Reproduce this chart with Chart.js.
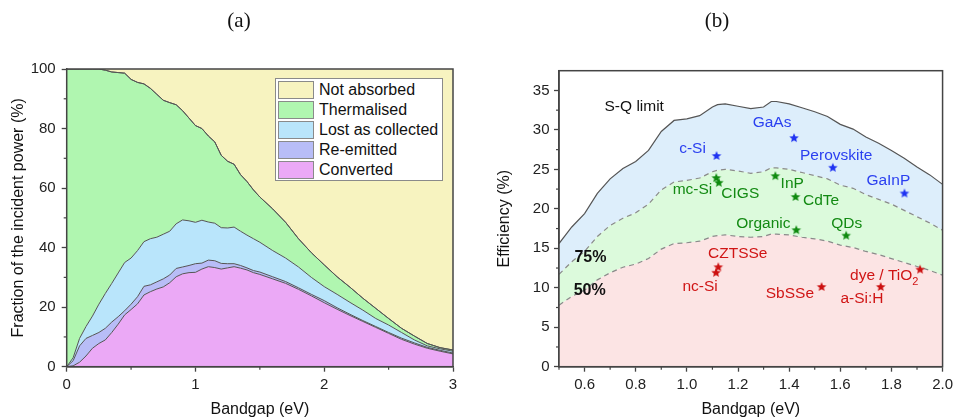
<!DOCTYPE html>
<html>
<head>
<meta charset="utf-8">
<script src="https://cdn.jsdelivr.net/npm/chart.js@4.4.0/dist/chart.umd.min.js"></script>
<style>
  body { margin: 0; background: #fff; }
  #wrap { position: relative; width: 957px; height: 419px; overflow: hidden; }
  .panel { position: absolute; top: 0; height: 419px; }
  #pa { left: 0; width: 478px; }
  #pb { left: 478px; width: 479px; }
  #legA {
    position: absolute; left: 275px; top: 78px; width: 168px; height: 103px;
    margin: 0; padding: 1px 0 0 0; list-style: none; box-sizing: border-box;
    background: #fff; border: 1px solid #8a8a8a;
    font: 16px "Liberation Sans", Arial, sans-serif; color: #111;
  }
  #legA li { display: flex; align-items: center; height: 20px; }
  #legA .sw {
    display: inline-block; width: 36px; height: 18px; margin: 0 5px 0 2px;
    border: 1px solid #8a8a8a; box-sizing: border-box;
  }
</style>
</head>
<body>
<div id="wrap">
  <div class="panel" id="pa"><canvas id="chartA" width="478" height="419"></canvas></div>
  <div class="panel" id="pb"><canvas id="chartB" width="479" height="419"></canvas></div>
  <ul id="legA"></ul>
</div>
<script>
// ===== (a) energy balance vs bandgap: cumulative boundaries (%) =====
const bandgapA = [0, 0.05, 0.1, 0.15, 0.2, 0.25, 0.3, 0.35, 0.4, 0.45, 0.5, 0.55, 0.6, 0.65, 0.7, 0.75, 0.8, 0.85, 0.9, 0.95,
  1.0, 1.05, 1.1, 1.15, 1.2, 1.25, 1.3, 1.35, 1.4, 1.45, 1.5, 1.6, 1.7, 1.8, 1.9, 2.0, 2.1, 2.2, 2.3, 2.4, 2.5, 2.6, 2.7, 2.8, 2.9, 3.0];
const convertedTop = [0, 0.3, 1.5, 3.6, 6.2, 7.8, 9, 11.5, 14.3, 17.4, 19.2, 21.1, 24.1, 25.2, 26.1, 26.8, 28.2, 30.2, 31.2, 31.6,
  31.7, 32.8, 33.6, 33.3, 32.8, 33.2, 33.6, 33.1, 32.5, 31.6, 31, 29.5, 28, 26, 23.8, 21.5, 19.3, 17.2, 15.2, 13.2, 11.2, 9.2, 7.6, 6.2, 5.2, 4.3];
const reemittedTop = [0, 2, 7, 9.5, 10.5, 11.5, 12.9, 15, 16.8, 18.8, 21, 23.5, 27, 27.5, 28.5, 29.5, 30.8, 33, 33.5, 34,
  34.6, 34.8, 35.8, 35.6, 34.7, 34.6, 34.6, 34, 33.2, 32.3, 31.8, 30.2, 28.6, 26.5, 24.3, 22.2, 19.8, 17.6, 15.5, 13.5, 11.5, 9.6, 8, 6.5, 5.5, 4.6];
const lostTop = [0, 3, 9.5, 13.5, 17, 21, 24.6, 28, 31.5, 35, 36.5, 39, 42, 43, 43.5, 44.5, 45.5, 48, 49.3, 49,
  48.5, 49.2, 48.6, 48.2, 46.7, 46.6, 46.9, 45.5, 44.2, 43, 41.8, 39, 36.5, 33.5, 30, 26.9, 24.3, 21.6, 19, 16.2, 14, 11.5, 9, 7, 6, 5.2];
const thermalisedTop = [100, 100, 100, 100, 100, 100, 99.6, 99, 98.8, 98.6, 96.5, 95.5, 95, 93.5, 91.5, 89.5, 88.7, 88, 86, 83.5,
  81, 80, 77.5, 75.5, 71, 69, 68, 64.5, 62.2, 59.4, 57, 53, 48.5, 43, 38.3, 34.2, 30.2, 26.7, 23, 19.6, 16.2, 12.9, 10.3, 7.8, 6.4, 5.6];
const legendA = ["Not absorbed", "Thermalised", "Lost as collected", "Re-emitted", "Converted"];

// ===== (b) efficiency limits vs bandgap (%) =====
const bandgapB = [0.5, 0.55, 0.6, 0.65, 0.7, 0.75, 0.8, 0.85, 0.9, 0.95, 1.0, 1.05, 1.1, 1.12, 1.15, 1.2, 1.25, 1.3, 1.33, 1.35,
  1.4, 1.45, 1.5, 1.55, 1.6, 1.65, 1.7, 1.75, 1.8, 1.85, 1.9, 1.95, 2.0];
const sqLimit = [15.6, 17.7, 19.4, 21.95, 23.8, 25.1, 26.0, 27.4, 29.8, 31.2, 31.4, 31.8, 32.9, 33.2, 33.3, 33.0, 32.7, 32.9, 33.6, 33.6,
  33.3, 32.8, 32.3, 31.7, 30.7, 30.1, 29.1, 28.3, 27.4, 26.4, 25.3, 24.3, 23.1];
const sq75 = [11.7, 13.3, 14.6, 16.5, 17.9, 18.8, 19.5, 20.6, 22.4, 23.4, 23.6, 23.9, 24.7, 24.9, 25.0, 24.8, 24.5, 24.7, 25.2, 25.2,
  25.0, 24.6, 24.2, 23.8, 23.0, 22.6, 21.8, 21.2, 20.6, 19.8, 19.0, 18.2, 17.3];
const sq50 = [7.8, 8.9, 9.7, 11.0, 11.9, 12.6, 13.0, 13.7, 14.9, 15.6, 15.7, 15.9, 16.5, 16.6, 16.7, 16.5, 16.4, 16.5, 16.8, 16.8,
  16.7, 16.4, 16.2, 15.9, 15.4, 15.1, 14.6, 14.2, 13.7, 13.2, 12.7, 12.2, 11.6];

// record cells: bandgap (eV), efficiency (%), group
const cellName  = ["c-Si", "GaAs", "Perovskite", "GaInP", "mc-Si", "CIGS", "InP", "CdTe", "Organic", "QDs",
  "CZTSSe", "nc-Si", "SbSSe", "a-Si:H", "dye / TiO2"];
const cellGap   = [1.116, 1.419, 1.571, 1.851, 1.115, 1.125, 1.346, 1.425, 1.428, 1.623, 1.123, 1.114, 1.527, 1.758, 1.912];
const cellEff   = [26.7, 28.96, 25.2, 21.95, 23.9, 23.3, 24.15, 21.5, 17.3, 16.6, 12.6, 11.9, 10.1, 10.1, 12.3];
const cellGroup = ["blue", "blue", "blue", "blue", "green", "green", "green", "green", "green", "green",
  "red", "red", "red", "red", "red"];

// text annotations (data coordinates)
const noteText  = ["S-Q limit", "GaAs", "c-Si", "Perovskite", "GaInP", "mc-Si", "CIGS", "InP", "CdTe", "Organic", "QDs",
  "CZTSSe", "nc-Si", "SbSSe", "dye / TiO", "a-Si:H", "75%", "50%"];
const noteSub   = ["", "", "", "", "", "", "", "", "", "", "", "", "", "", "2", "", "", ""];
const noteX     = [0.678, 1.333, 1.022, 1.584, 1.788, 1.022, 1.209, 1.412, 1.525, 1.299, 1.625,
  1.199, 1.052, 1.403, 1.638, 1.685, 0.623, 0.62];
const noteY     = [33.0, 30.9, 27.6, 26.7, 23.6, 22.4, 21.9, 23.2, 21.0, 18.15, 18.15, 14.3, 10.1, 9.3, 11.5, 8.65, 13.85, 9.6];
const noteGroup = ["black", "blue", "blue", "blue", "blue", "green", "green", "green", "green", "green", "green",
  "red", "red", "red", "red", "red", "pct", "pct"];

// ===== estilos =====
const SANS = '"Liberation Sans", Arial, sans-serif';
const SERIF = '"Liberation Serif", "Times New Roman", serif';
const AXIS = "#444";
const LINE = "#555";
const groupColor = { black: "#111", blue: "#2a3ff0", green: "#138a13", red: "#d01515", pct: "#111" };
const starColor = { blue: "#1f33f2", green: "#0f8a0f", red: "#cc1010" };
const fillsA = {
  "Not absorbed": "#f7f3c0",
  "Thermalised": "#b0f6b0",
  "Lost as collected": "#b9e5fb",
  "Re-emitted": "#b8bdf7",
  "Converted": "#eba9f6",
};

function range(min, max, step) {
  const out = [];
  const n = Math.round((max - min) / step);
  for (let i = 0; i <= n; i++) out.push(Number((min + i * step).toFixed(4)));
  return out;
}

function majorTest(major) {
  return (v) => Math.abs(v / major - Math.round(v / major)) < 1e-6;
}

function pts(xs, ys) {
  return xs.map((x, i) => ({ x: x, y: ys[i] }));
}

function makeAxis(o) {
  const isMajor = majorTest(o.major);
  return {
    type: "linear",
    min: o.min,
    max: o.max,
    afterBuildTicks: (s) => { s.ticks = o.ticks.map((v) => ({ value: v })); },
    afterFit: (s) => {
      if (o.width) s.width = o.width;
      if (o.height) s.height = o.height;
    },
    ticks: {
      autoSkip: false,
      maxRotation: 0,
      padding: o.pad,
      color: "#222",
      font: { family: SANS, size: 15 },
      callback: (v) => (isMajor(v) ? o.fmt(v) : ""),
    },
    grid: {
      drawOnChartArea: false,
      tickLength: 5,
      tickWidth: 1.3,
      tickColor: (c) => (c.tick && isMajor(c.tick.value) ? AXIS : "rgba(0,0,0,0)"),
    },
    border: { color: AXIS, width: 1.5 },
    title: {
      display: true,
      text: o.title,
      color: "#111",
      font: { family: SANS, size: 16 },
      padding: o.titlePad,
    },
  };
}

// frame + short minor ticks + panel letter
function framePlugin(letter, majorX, majorY) {
  const isMx = majorTest(majorX), isMy = majorTest(majorY);
  return {
    id: "frame",
    afterDraw(chart) {
      const { ctx, chartArea: a } = chart;
      ctx.save();
      ctx.strokeStyle = AXIS;
      ctx.lineWidth = 1.2;
      chart.scales.x.ticks.forEach((t) => {
        if (isMx(t.value)) return;
        const p = chart.scales.x.getPixelForValue(t.value);
        ctx.beginPath(); ctx.moveTo(p, a.bottom); ctx.lineTo(p, a.bottom + 3); ctx.stroke();
      });
      chart.scales.y.ticks.forEach((t) => {
        if (isMy(t.value)) return;
        const p = chart.scales.y.getPixelForValue(t.value);
        ctx.beginPath(); ctx.moveTo(a.left, p); ctx.lineTo(a.left - 3, p); ctx.stroke();
      });
      ctx.lineWidth = 1.5;
      ctx.strokeRect(a.left, a.top, a.right - a.left, a.bottom - a.top);
      ctx.fillStyle = "#111";
      ctx.font = "21px " + SERIF;
      ctx.textAlign = "center";
      ctx.textBaseline = "middle";
      ctx.fillText(letter, 239, 21);
      ctx.restore();
    },
  };
}

function starImage(color, r) {
  const size = Math.ceil(r * 2 + 2);
  const c = document.createElement("canvas");
  c.width = c.height = size;
  const g = c.getContext("2d");
  g.fillStyle = color;
  g.beginPath();
  for (let i = 0; i < 10; i++) {
    const rr = i % 2 ? r * 0.45 : r;
    const ang = -Math.PI / 2 + (i * Math.PI) / 5;
    g.lineTo(size / 2 + rr * Math.cos(ang), size / 2 + rr * Math.sin(ang));
  }
  g.closePath();
  g.fill();
  return c;
}

// ===== panel (a) =====
function area(label, data, fill) {
  return {
    label: label,
    data: pts(bandgapA, data),
    fill: fill,
    backgroundColor: fillsA[label],
    borderColor: LINE,
    borderWidth: 1,
    pointRadius: 0,
    tension: 0,
  };
}

new Chart(document.getElementById("chartA"), {
  type: "line",
  data: {
    datasets: [
      area("Converted", convertedTop, "origin"),
      area("Re-emitted", reemittedTop, "-1"),
      area("Lost as collected", lostTop, "-1"),
      area("Thermalised", thermalisedTop, "-1"),
      area("Not absorbed", thermalisedTop, "end"),
    ],
  },
  options: {
    responsive: false,
    animation: false,
    layout: { padding: { top: 69, right: 25, bottom: 0, left: 0 } },
    plugins: {
      legend: { display: false },
      tooltip: { enabled: false },
      filler: { drawTime: "beforeDatasetsDraw" },
    },
    scales: {
      x: makeAxis({ min: 0, max: 3, ticks: range(0, 3, 0.5), major: 1, fmt: (v) => String(v),
        title: "Bandgap (eV)", pad: 4, height: 52.3, titlePad: { top: 0, bottom: 0 } }),
      y: makeAxis({ min: 0, max: 100, ticks: range(0, 100, 10), major: 20, fmt: (v) => String(v),
        title: "Fraction of the incident power (%)", pad: 6, width: 66.7, titlePad: { top: 9, bottom: 0 } }),
    },
  },
  plugins: [framePlugin("(a)", 1, 20)],
});

// leyenda HTML
(function renderLegend() {
  const $legend = document.getElementById("legA");
  legendA.forEach((name) => {
    const li = document.createElement("li");
    li.innerHTML = `<span class="sw" style="background:${fillsA[name]}"></span><span>${name}</span>`;
    $legend.appendChild(li);
  });
})();

// ===== panel (b) =====
function starSet(group) {
  const idx = cellGroup.map((g, i) => (g === group ? i : -1)).filter((i) => i >= 0);
  return {
    label: group,
    data: idx.map((i) => ({ x: cellGap[i], y: cellEff[i] })),
    showLine: false,
    fill: false,
    order: 0,
    pointStyle: starImage(starColor[group], 5),
    pointRadius: 5,
  };
}

function limitSet(label, data, fill, bg, color, dash) {
  return {
    label: label,
    data: pts(bandgapB, data),
    fill: fill,
    order: 1,
    backgroundColor: bg,
    borderColor: color,
    borderWidth: 1.2,
    borderDash: dash,
    pointRadius: 0,
    tension: 0,
  };
}

const notesPlugin = {
  id: "notes",
  afterDatasetsDraw(chart) {
    const { ctx, scales: { x, y } } = chart;
    ctx.save();
    ctx.textBaseline = "middle";
    noteText.forEach((t, i) => {
      const g = noteGroup[i];
      ctx.fillStyle = groupColor[g];
      ctx.font = (g === "pct" ? "bold 16px " : "15.5px ") + SANS;
      const left = g === "black" || noteSub[i];
      ctx.textAlign = left ? "left" : "center";
      const px = x.getPixelForValue(noteX[i]);
      const py = y.getPixelForValue(noteY[i]);
      ctx.fillText(t, px, py);
      if (noteSub[i]) {
        const w = ctx.measureText(t).width;
        ctx.font = "11px " + SANS;
        ctx.fillText(noteSub[i], px + w, py + 6);
      }
    });
    ctx.restore();
  },
};

new Chart(document.getElementById("chartB"), {
  type: "line",
  data: {
    datasets: [
      limitSet("50%", sq50, "origin", "#fce4e4", "#8a8a8a", [5, 4]),
      limitSet("75%", sq75, "-1", "#dcfadc", "#8a8a8a", [5, 4]),
      limitSet("S-Q limit", sqLimit, "-1", "#ddeefb", LINE, []),
      starSet("blue"),
      starSet("green"),
      starSet("red"),
    ],
  },
  options: {
    responsive: false,
    animation: false,
    layout: { padding: { top: 70.7, right: 11, bottom: 0, left: 0 } },
    plugins: {
      legend: { display: false },
      tooltip: { enabled: false },
      filler: { drawTime: "beforeDatasetsDraw" },
    },
    scales: {
      x: makeAxis({ min: 0.5, max: 2.0, ticks: range(0.5, 2.0, 0.1), major: 0.2, fmt: (v) => v.toFixed(1),
        title: "Bandgap (eV)", pad: 4, height: 52.3, titlePad: { top: 0, bottom: 0 } }),
      y: makeAxis({ min: 0, max: 37.5, ticks: range(0, 35, 2.5), major: 5, fmt: (v) => String(v),
        title: "Efficiency (%)", pad: 4.5, width: 81, titlePad: { top: 17, bottom: 0 } }),
    },
  },
  plugins: [notesPlugin, framePlugin("(b)", 0.2, 5)],
});
</script>
</body>
</html>
